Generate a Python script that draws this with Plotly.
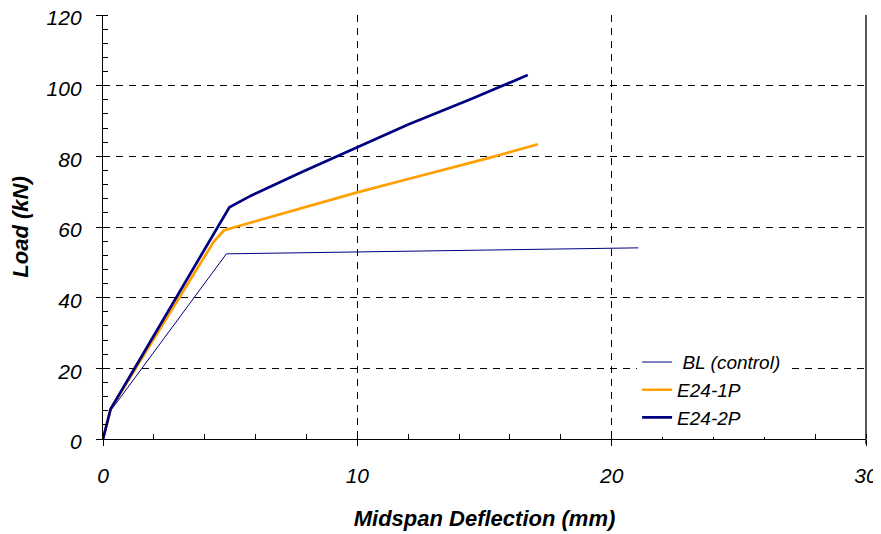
import plotly.graph_objects as go

# Data
bl_x = [0, 0.3, 4.85, 21.05]
bl_y = [0, 8.0, 52.4, 54.1]

e1_x = [0, 0.3, 4.35, 4.75, 5.2, 8.0, 10.0, 12.0, 15.0, 17.1]
e1_y = [0, 8.5, 55.8, 59.0, 60.0, 65.8, 69.8, 73.6, 79.2, 83.4]

e2_x = [0, 0.3, 4.97, 5.8, 7.8, 10.0, 12.0, 14.5, 16.7]
e2_y = [0, 8.5, 65.6, 68.8, 75.5, 82.5, 89.0, 96.3, 103.0]

x_ticks = [0, 10, 20, 30]
y_ticks = [0, 20, 40, 60, 80, 100, 120]

FONT = "Liberation Sans, Arial, sans-serif"

fig = go.Figure()
fig.add_trace(go.Scatter(x=bl_x, y=bl_y, mode="lines", name=" BL (control)",
                         line=dict(color="#000080", width=1)))
fig.add_trace(go.Scatter(x=e1_x, y=e1_y, mode="lines", name="E24-1P",
                         line=dict(color="#FFA000", width=2.7)))
fig.add_trace(go.Scatter(x=e2_x, y=e2_y, mode="lines", name="E24-2P",
                         line=dict(color="#000080", width=2.7)))

axis_common = dict(
    showline=True, linecolor="black", linewidth=1.3, automargin=False,
    showgrid=True, gridcolor="black", gridwidth=1, griddash="7px,6px",
    zeroline=False, ticks="outside", ticklen=6, tickcolor="black", tickwidth=1,
    ticklabeloverflow="allow",
    tickfont=dict(family=FONT, size=21, color="black", style="italic"),
)

fig.update_xaxes(
    range=[0, 30], tickvals=x_ticks, ticklabelstandoff=12,
    minor=dict(dtick=2, ticks="inside", ticklen=5, tickcolor="black", showgrid=False),
    title=dict(text="<b><i>Midspan Deflection (mm)</i></b>", standoff=24,
               font=dict(family=FONT, size=22, color="black")),
    **axis_common,
)
fig.update_yaxes(
    range=[0, 120], tickvals=y_ticks, ticklabelstandoff=10, ticklabelshift=3,
    minor=dict(dtick=4, ticks="inside", ticklen=5, tickcolor="black", showgrid=False),
    title=dict(text="<b><i>Load (kN)</i></b>", standoff=12,
               font=dict(family=FONT, size=22, color="black")),
    **axis_common,
)

fig.add_shape(type="line", xref="paper", yref="paper", x0=1, x1=1, y0=-0.012, y1=1,
              line=dict(color="black", width=1.3))

# page body has an 8px margin, so the figure is sized/offset to compensate
fig.update_layout(
    width=873, height=526,
    margin=dict(l=95, r=15, t=7, b=95),
    plot_bgcolor="white", paper_bgcolor="white",
    font=dict(family=FONT, color="black"),
    legend=dict(x=0.70, y=0.226, xanchor="left", yanchor="top",
                bgcolor="white", borderwidth=0,
                font=dict(family=FONT, size=19, color="black", style="italic"),
                tracegroupgap=0, itemwidth=30),
    showlegend=True,
)

fig.write_html("out.html")
